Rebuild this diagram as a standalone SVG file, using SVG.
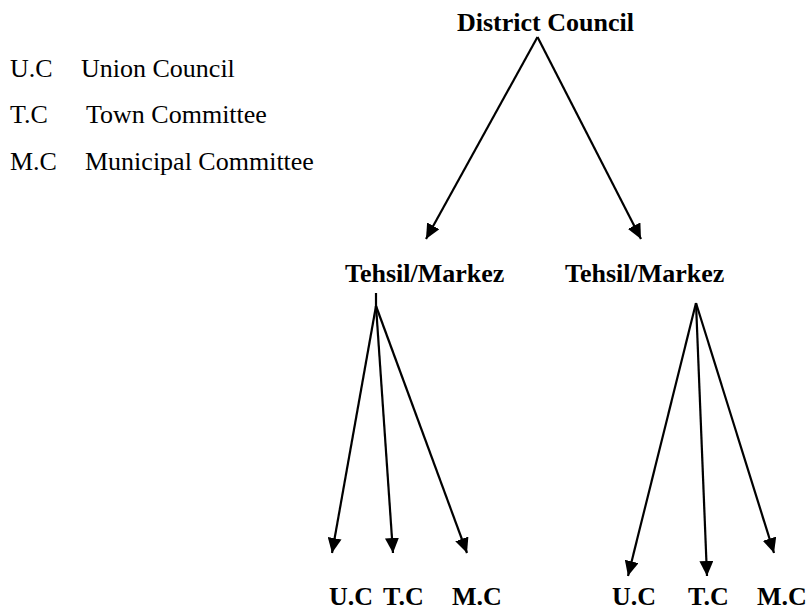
<svg xmlns="http://www.w3.org/2000/svg" width="809" height="611" viewBox="0 0 809 611">
<style>
.lg{font-family:'Times New Roman','Liberation Serif','DejaVu Serif',serif;font-size:26px;fill:#000}
.nd{font-family:'Times New Roman','Liberation Serif','DejaVu Serif',serif;font-size:26px;font-weight:bold;fill:#000}
.ln{stroke:#000;stroke-width:2.2;fill:none;marker-end:url(#ah)}
</style>
<defs>
<marker id="ah" markerUnits="userSpaceOnUse" markerWidth="16" markerHeight="14" refX="15" refY="7" orient="auto">
<path d="M0,0 L15,7 L0,14 Z" fill="#000"/>
</marker>
</defs>
<rect width="809" height="611" fill="#fff"/>
<g id="legend">
<text class="lg" x="10" y="77">U.C</text><text class="lg" x="81" y="77">Union Council</text>
<text class="lg" x="10" y="123">T.C</text><text class="lg" x="86" y="123">Town Committee</text>
<text class="lg" x="10" y="170">M.C</text><text class="lg" x="85" y="170">Municipal Committee</text>
</g>
<g id="district"><text class="nd" x="457" y="31">District Council</text></g>
<g id="tehsil1"><text class="nd" x="345" y="282">Tehsil/Markez</text></g>
<g id="tehsil2"><text class="nd" x="565" y="282">Tehsil/Markez</text></g>
<g id="uc1"><text class="nd" x="329" y="605">U.C</text></g>
<g id="tc1"><text class="nd" x="383" y="605">T.C</text></g>
<g id="mc1"><text class="nd" x="452" y="605">M.C</text></g>
<g id="uc2"><text class="nd" x="612" y="605">U.C</text></g>
<g id="tc2"><text class="nd" x="688" y="605">T.C</text></g>
<g id="mc2"><text class="nd" x="757" y="605">M.C</text></g>
<g id="connectors">
<path class="ln" d="M537.5,37 L426,239"/>
<path class="ln" d="M537.5,37 L641,239"/>
<path stroke="#000" stroke-width="2.2" d="M376,293 L376,308"/>
<path class="ln" d="M376,306 L332,553"/>
<path class="ln" d="M376,306 L393,553"/>
<path class="ln" d="M376,306 L467,553"/>
<path class="ln" d="M696,303 L628,576"/>
<path class="ln" d="M696,303 L707,576"/>
<path class="ln" d="M696,303 L774,553"/>
</g>
</svg>
